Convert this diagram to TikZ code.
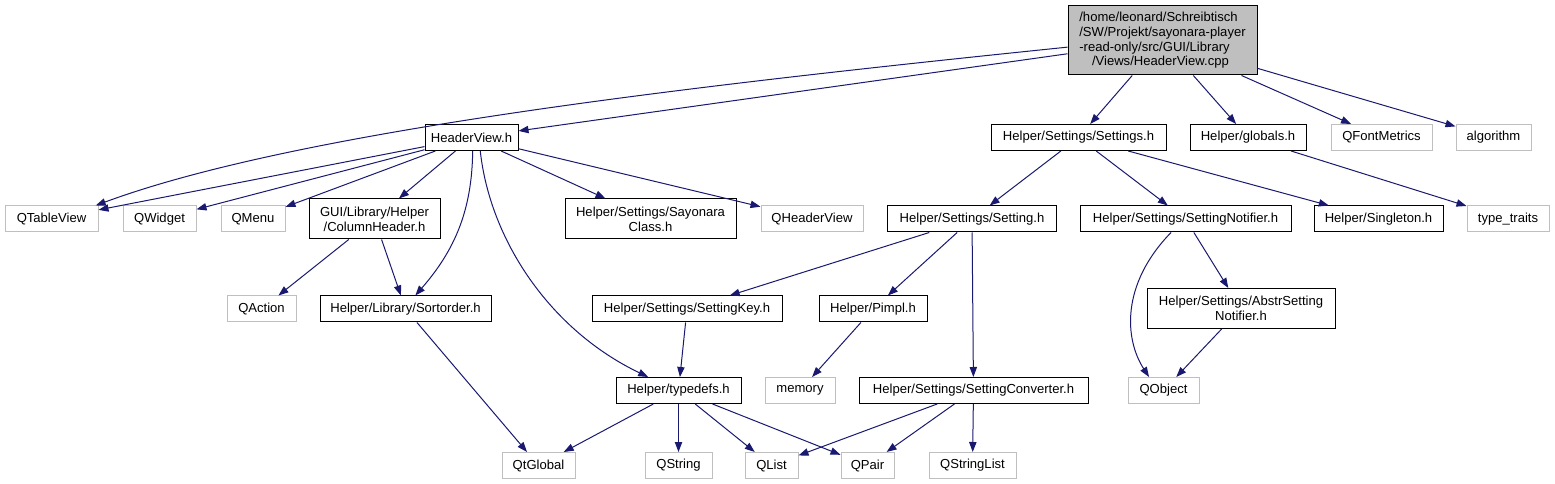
\documentclass[tikz,border=0pt]{standalone}
\usepackage{fontspec}
\setmainfont{Liberation Sans}
\usepackage{tikz}
\usetikzlibrary{arrows.meta, positioning}
\definecolor{azulFlecha}{RGB}{25, 25, 112}
\definecolor{grisBorde}{RGB}{191, 191, 191}
\definecolor{grisRaiz}{RGB}{191, 191, 191}

\tikzset{
  caja/.style={draw=black, line width=0.75pt, inner sep=0pt, minimum height=19.5pt,
    align=center, font=\fontsize{9.8}{11}\selectfont},
  externa/.style={caja, draw=grisBorde},
  doble/.style={minimum height=30pt},
  flecha/.style={draw=azulFlecha, line width=0.75pt, -{Triangle[length=7.5pt, width=5.5pt]}}
}

\begin{document}
\begin{tikzpicture}[x=0.75pt, y=-0.75pt]
  \useasboundingbox (0,0) rectangle (1555,484);

  % Archivo principal
  \node[caja, fill=grisRaiz, minimum width=141.75pt, minimum height=51.75pt, align=left] (raiz) at (1162.5,40.5)
    {/home/leonard/Schreibtisch\\/SW/Projekt/sayonara-player\\-read-only/src/GUI/Library\\\hspace*{9.5pt}/Views/HeaderView.cpp};

  % Primer nivel
  \node[caja, minimum width=69.75pt] (hv) at (471.5,137.5) {HeaderView.h};
  \node[caja, minimum width=131.25pt] (settings) at (1078.5,137.5) {Helper/Settings/Settings.h};
  \node[caja, minimum width=87pt] (globals) at (1248,137.5) {Helper/globals.h};
  \node[externa, minimum width=75.75pt] (qfm) at (1381.5,137.5) {QFontMetrics};
  \node[externa, minimum width=56.25pt] (algo) at (1493.5,137.5) {algorithm};

  % Segundo nivel
  \node[externa, minimum width=69.75pt] (qtv) at (51.5,219) {QTableView};
  \node[externa, minimum width=54.75pt] (qwidget) at (159.5,219) {QWidget};
  \node[externa, minimum width=48pt] (qmenu) at (253,219) {QMenu};
  \node[caja, doble, minimum width=98.25pt] (colhead) at (374.5,219) {GUI/Library/Helper\\/ColumnHeader.h};
  \node[caja, doble, minimum width=128.25pt] (sayclass) at (650.5,219) {Helper/Settings/Sayonara\\Class.h};
  \node[externa, minimum width=76.5pt] (qhv) at (812,219) {QHeaderView};
  \node[caja, minimum width=126.75pt] (setting) at (972,219) {Helper/Settings/Setting.h};
  \node[caja, minimum width=158.25pt] (notifier) at (1185.5,219) {Helper/Settings/SettingNotifier.h};
  \node[caja, minimum width=96.75pt] (singleton) at (1378.5,219) {Helper/Singleton.h};
  \node[externa, minimum width=61.5pt] (traits) at (1508,219) {type\_traits};

  % Tercer nivel
  \node[externa, minimum width=51.75pt] (qaction) at (261.5,309) {QAction};
  \node[caja, minimum width=128.25pt] (sortorder) at (405.5,309) {Helper/Library/Sortorder.h};
  \node[caja, minimum width=142.5pt] (setkey) at (687,309) {Helper/Settings/SettingKey.h};
  \node[caja, minimum width=81pt] (pimpl) at (873,309) {Helper/Pimpl.h};
  \node[caja, doble, minimum width=141pt] (abstr) at (1241,308.5) {Helper/Settings/AbstrSetting\\Notifier.h};

  % Cuarto nivel
  \node[caja, minimum width=93.75pt] (typedefs) at (678.5,390.5) {Helper/typedefs.h};
  \node[externa, minimum width=52.5pt] (memory) at (800,390.5) {memory};
  \node[caja, minimum width=171.75pt] (converter) at (973.5,390.5) {Helper/Settings/SettingConverter.h};
  \node[externa, minimum width=53.25pt] (qobject) at (1163.5,390.5) {QObject};

  % Quinto nivel
  \node[externa, minimum width=54.75pt] (qtglobal) at (538.5,465.5) {QtGlobal};
  \node[externa, minimum width=50.25pt] (qstring) at (678.5,465.5) {QString};
  \node[externa, minimum width=39.75pt] (qlist) at (771.5,465.5) {QList};
  \node[externa, minimum width=39.75pt] (qpair) at (867.5,465.5) {QPair};
  \node[externa, minimum width=65.25pt] (qstrlist) at (972.5,465.5) {QStringList};

  % Dependencias del archivo principal
  \draw[flecha] (raiz.184) .. controls (700,85) and (300,130) .. (qtv.17);
  \draw[flecha] (raiz) -- (hv);
  \draw[flecha] (raiz) -- (settings);
  \draw[flecha] (raiz) -- (globals);
  \draw[flecha] (raiz) -- (qfm);
  \draw[flecha] (raiz) -- (algo);

  % Dependencias de HeaderView.h
  \draw[flecha] (hv) -- (qtv);
  \draw[flecha] (hv) -- (qwidget);
  \draw[flecha] (hv) -- (qmenu);
  \draw[flecha] (hv) -- (colhead);
  \draw[flecha] (hv.-85) .. controls (472,210) and (455,250) .. (sortorder.54);
  \draw[flecha] (hv.-57) .. controls (490,240) and (550,330) .. (typedefs.156);
  \draw[flecha] (hv) -- (sayclass);
  \draw[flecha] (hv) -- (qhv);
  \draw[flecha] (colhead) -- (qaction);
  \draw[flecha] (colhead) -- (sortorder);
  \draw[flecha] (sortorder) -- (qtglobal);

  % Dependencias de Settings.h
  \draw[flecha] (settings) -- (setting);
  \draw[flecha] (settings) -- (notifier);
  \draw[flecha] (settings) -- (singleton);
  \draw[flecha] (globals) -- (traits);
  \draw[flecha] (setting) -- (setkey);
  \draw[flecha] (setting) -- (pimpl);
  \draw[flecha] (setting) -- (converter);
  \draw[flecha] (setkey) -- (typedefs);
  \draw[flecha] (pimpl) -- (memory);
  \draw[flecha] (notifier.-137) .. controls (1120,285) and (1125,340) .. (qobject.137);
  \draw[flecha] (notifier) -- (abstr);
  \draw[flecha] (abstr) -- (qobject);

  % Tipos de Qt
  \draw[flecha] (typedefs) -- (qtglobal);
  \draw[flecha] (typedefs) -- (qstring);
  \draw[flecha] (typedefs) -- (qlist);
  \draw[flecha] (typedefs) -- (qpair);
  \draw[flecha] (converter) -- (qlist);
  \draw[flecha] (converter) -- (qpair);
  \draw[flecha] (converter) -- (qstrlist);
\end{tikzpicture}
\end{document}
